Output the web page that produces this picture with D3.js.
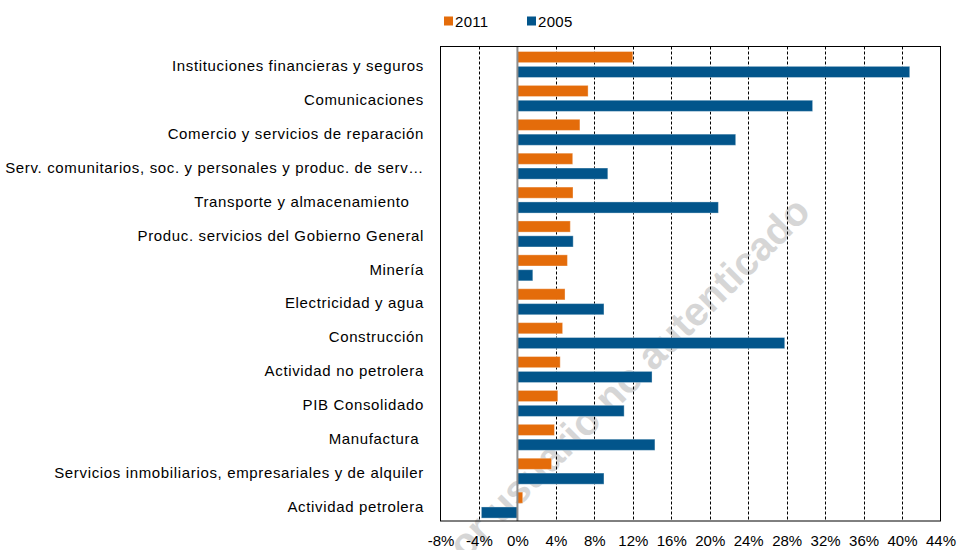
<!DOCTYPE html>
<html>
<head>
<meta charset="utf-8">
<script src="https://cdn.jsdelivr.net/npm/d3@7"></script>
<style>
  body { margin: 0; background: #fff; }
  text { font-family: "Liberation Sans", Arial, sans-serif; fill: #000; }
</style>
</head>
<body>
<div id="chart"></div>
<script>
// data (growth, %)
var categories = [
    "Instituciones financieras y seguros",
    "Comunicaciones",
    "Comercio y servicios de reparación",
    "Serv. comunitarios, soc. y personales y produc. de serv…",
    "Transporte y almacenamiento   ",
    "Produc. servicios del Gobierno General",
    "Minería",
    "Electricidad y agua",
    "Construcción",
    "Actividad no petrolera",
    "PIB Consolidado",
    "Manufactura ",
    "Servicios inmobiliarios, empresariales y de alquiler",
    "Actividad petrolera"
]
var values2011 = [12.0, 7.35, 6.5, 5.75, 5.78, 5.5, 5.2, 4.95, 4.7, 4.45, 4.2, 3.85, 3.55, 0.55]
var values2005 = [40.8, 30.7, 22.7, 9.4, 20.9, 5.8, 1.6, 9.0, 27.8, 14.0, 11.1, 14.3, 9.0, -3.75]
var seriesNames = ["2011", "2005"]
var seriesColors = ["#E46C0A", "#02558B"]
var xTicks = [-8, -4, 0, 4, 8, 12, 16, 20, 24, 28, 32, 36, 40, 44]

var width = 957
var height = 550
var plot = { left: 440.5, right: 940.5, top: 46.5, bottom: 521 }

const svg = d3.select("#chart")
    .append("svg")
    .attr("width", width)
    .attr("height", height)

var x = d3.scaleLinear()
    .domain([-8, 44])
    .range([plot.left, plot.right])

var y0 = d3.scaleBand()
    .domain(categories)
    .range([plot.top, plot.bottom])

var y1 = d3.scaleBand()
    .domain(seriesNames)
    .range([5, 31])
    .paddingInner(0.25)

var rows = categories.map((c, i) => ({ cat: c, vals: [values2011[i], values2005[i]] }))

// watermark sits behind everything (cut by the bottom edge, as in the source)
svg.append("text")
    .attr("transform", "translate(620,386) rotate(-45)")
    .attr("text-anchor", "middle")
    .attr("dy", "0.35em")
    .style("font-size", "40px")
    .style("font-weight", "bold")
    .style("fill", "#d6d6d6")
    .text("por usuario no autenticado")

// gridlines
svg.append("g")
    .selectAll("line")
    .data(xTicks.filter(t => t > -8 && t < 44 && t != 0))
    .join("line")
    .attr("x1", d => Math.round(x(d)) + 0.5)
    .attr("x2", d => Math.round(x(d)) + 0.5)
    .attr("y1", plot.top)
    .attr("y2", plot.bottom)
    .attr("stroke", "#000")
    .attr("stroke-width", 1)
    .attr("stroke-dasharray", "3,2")

// bars
var groups = svg.append("g")
    .selectAll("g")
    .data(rows)
    .join("g")
    .attr("transform", d => `translate(0,${y0(d.cat)})`)

groups.selectAll("rect")
    .data(d => d.vals.map((v, j) => ({ key: seriesNames[j], v: v, j: j })))
    .join("rect")
    .attr("x", d => x(Math.min(0, d.v)))
    .attr("width", d => Math.abs(x(d.v) - x(0)))
    .attr("y", d => y1(d.key))
    .attr("height", y1.bandwidth())
    .attr("fill", d => seriesColors[d.j])
    .attr("stroke", "#fff")
    .attr("stroke-opacity", 0.35)
    .attr("stroke-width", 1)

// zero line
svg.append("line")
    .attr("x1", x(0))
    .attr("x2", x(0))
    .attr("y1", plot.top)
    .attr("y2", plot.bottom)
    .attr("stroke", "#8c8c8c")
    .attr("stroke-width", 2)

// plot border
svg.append("rect")
    .attr("x", plot.left)
    .attr("y", plot.top)
    .attr("width", plot.right - plot.left)
    .attr("height", plot.bottom - plot.top)
    .attr("fill", "none")
    .attr("stroke", "#000")
    .attr("stroke-width", 1)

// category labels
svg.append("g")
    .selectAll("text")
    .data(categories)
    .join("text")
    .attr("x", 424)
    .attr("y", d => y0(d) + y0.bandwidth() / 2 + 2.5)
    .attr("dy", "0.35em")
    .attr("text-anchor", "end")
    .style("font-size", "15px")
    .style("letter-spacing", "0.65px")
    .style("white-space", "pre")
    .text(d => d)

// x axis labels
var xAxis = svg.append("g")
    .attr("transform", `translate(0,${plot.bottom})`)
    .call(d3.axisBottom(x).tickValues(xTicks).tickSize(0).tickPadding(14).tickFormat(d => d + "%"))
xAxis.select(".domain").remove()
xAxis.selectAll("text")
    .style("font-size", "15px")
    .style("font-family", "'Liberation Sans', Arial, sans-serif")

// legend
var legend = svg.append("g")
    .selectAll("g")
    .data(seriesNames)
    .join("g")
    .attr("transform", (d, i) => `translate(${444 + i * 83},16.5)`)
legend.append("rect")
    .attr("width", 9)
    .attr("height", 9)
    .attr("fill", (d, i) => seriesColors[i])
legend.append("text")
    .attr("x", 11)
    .attr("y", 10)
    .style("font-size", "15px")
    .style("letter-spacing", "0.3px")
    .text(d => d)
</script>
</body>
</html>
